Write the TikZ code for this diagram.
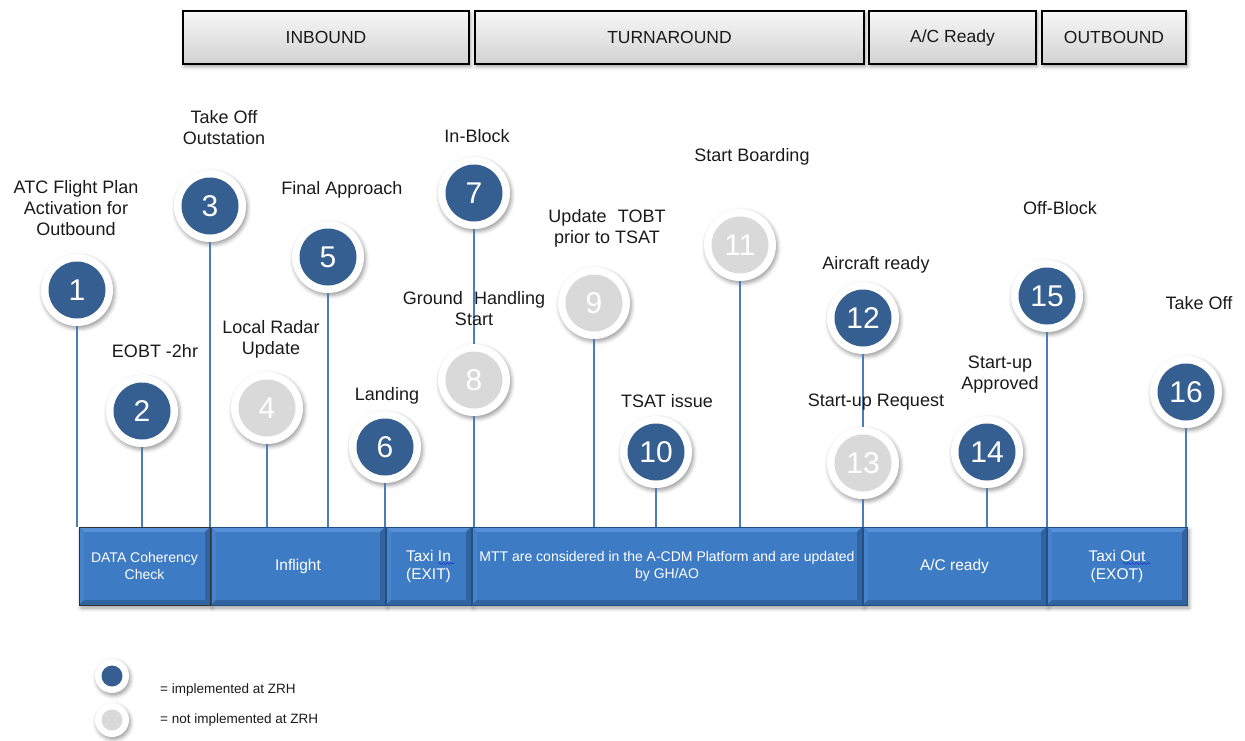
\documentclass[tikz,border=0pt]{standalone}
\usepackage{fontspec}
\setmainfont{Liberation Sans}
\usetikzlibrary{calc,shadows.blur,decorations.pathmorphing}

\definecolor{dotblue}{HTML}{355F91}
\definecolor{dotgray}{HTML}{D9D9D9}
\definecolor{linkblue}{HTML}{4A7EBB}
\definecolor{barblue}{HTML}{3D7BC5}
\definecolor{barlight}{HTML}{5690D6}
\definecolor{barside}{HTML}{4583CC}
\definecolor{bardark}{HTML}{30649F}
\definecolor{barline}{HTML}{254F82}
\definecolor{txt}{HTML}{1A1A1A}
\definecolor{squiggle}{HTML}{2233CC}

\tikzset{
  softshadow/.style={blur shadow={shadow xshift=1.5pt,shadow yshift=-2.5pt,shadow blur radius=4pt,shadow opacity=40}},
  milestone/.style={circle, fill=white, minimum size=72pt, inner sep=0pt, text=white,
    font=\fontsize{30}{30}\selectfont, softshadow},
  done/.style={milestone, path picture={\fill[dotblue] (path picture bounding box.center) circle[radius=28.5pt];}},
  todo/.style={milestone, path picture={\fill[dotgray] (path picture bounding box.center) circle[radius=28.5pt];}},
  keydone/.style={circle, fill=white, minimum size=34pt, inner sep=0pt, softshadow,
    path picture={\fill[dotblue] (path picture bounding box.center) circle[radius=10.5pt];}},
  keytodo/.style={circle, fill=white, minimum size=34pt, inner sep=0pt, softshadow,
    path picture={\fill[dotgray] (path picture bounding box.center) circle[radius=10.5pt];}},
  lbl/.style={font=\fontsize{18}{21}\selectfont, text=txt, align=center, inner sep=0pt},
  keytext/.style={font=\fontsize{13.5}{16}\selectfont, text=txt, anchor=west, inner sep=0pt},
  phase/.style={draw=black, line width=1.5pt, top color=gray!6, bottom color=gray!35,
    minimum height=53pt, font=\fontsize{17.5}{20}\selectfont, text=txt, inner sep=0pt, outer sep=0pt,
    softshadow},
  seg/.style={fill=barblue, draw=barline, line width=0.8pt, minimum height=78pt, inner sep=0pt,
    outer sep=0pt, text=white, align=center, font=\fontsize{15.5}{18}\selectfont,
    blur shadow={shadow xshift=2pt,shadow yshift=-3pt,shadow blur radius=4pt,shadow opacity=40}},
  small/.style={font=\fontsize{14}{17}\selectfont},
  conn/.style={draw=linkblue, line width=1.6pt},
  wavy/.style={draw=squiggle, line width=0.6pt, decorate,
    decoration={snake, amplitude=0.9pt, segment length=4pt}}
}

\begin{document}
\begin{tikzpicture}[x=1pt,y=-1pt]
\useasboundingbox (0,0) rectangle (1245,740);

% phase headers
\node[phase, minimum width=286pt] (hin)  at (326,37.5)    {INBOUND};
\node[phase, minimum width=389pt] (hta)  at (669.5,37.5)  {TURNAROUND};
\node[phase, minimum width=167pt] (hrdy) at (952.5,37.5)  {A/C Ready};
\node[phase, minimum width=144pt] (hout) at (1114,37.5)   {OUTBOUND};

% process bar
\node[seg, small, minimum width=131pt] (s1) at (144.5,566) {DATA Coherency\\Check};
\node[seg, minimum width=174pt] (s2) at (298,566)   {Inflight};
\node[seg, minimum width=85pt]  (s3) at (428.5,566) {Taxi In\\(EXIT)};
\node[seg, small, minimum width=390pt] (s4) at (667,566) {MTT  are  considered in the A-CDM Platform and are updated\\by GH/AO};
\node[seg, minimum width=183pt] (s5) at (954.5,566) {A/C ready};
\node[seg, minimum width=140pt] (s6) at (1117,566)  {Taxi Out\\(EXOT)};

% bevelled edges of the bar segments
\foreach \n in {s1,s2,s3,s4,s5,s6}{
  \fill[barlight] (\n.north west) -- (\n.north east) -- ($(\n.north east)+(-5,5)$) -- ($(\n.north west)+(5,5)$) -- cycle;
  \fill[barside]  (\n.north west) -- ($(\n.north west)+(5,5)$) -- ($(\n.south west)+(5,-5)$) -- (\n.south west) -- cycle;
  \fill[bardark]  (\n.north east) -- ($(\n.north east)+(-5,5)$) -- ($(\n.south east)+(-5,-5)$) -- (\n.south east) -- cycle;
  \fill[bardark]  (\n.south west) -- ($(\n.south west)+(5,-5)$) -- ($(\n.south east)+(-5,-5)$) -- (\n.south east) -- cycle;
  \draw[barline, line width=0.8pt] (\n.north west) rectangle (\n.south east);
}
\draw[black!80, line width=1pt] (s1.north west) rectangle (s1.south east);

% spell-check marks under "In" and "Out"
\draw[wavy] (438,563.5) -- (454,563.5);
\draw[wavy] (1123,563.5) -- (1150,563.5);

% milestones
\node[done] (c1)  at (77,290)   {1};
\node[done] (c2)  at (142,411)  {2};
\node[done] (c3)  at (210,206)  {3};
\node[todo] (c4)  at (267,408)  {4};
\node[done] (c5)  at (328,257)  {5};
\node[done] (c6)  at (385,447)  {6};
\node[done] (c7)  at (474,193)  {7};
\node[todo] (c8)  at (474,380)  {8};
\node[todo] (c9)  at (594,303)  {9};
\node[done] (c10) at (656,452)  {10};
\node[todo] (c11) at (740,245)  {11};
\node[done] (c12) at (863,318)  {12};
\node[todo] (c13) at (863,463)  {13};
\node[done] (c14) at (987,452)  {14};
\node[done] (c15) at (1047,296) {15};
\node[done] (c16) at (1186,392) {16};

% stems from the milestones down to the bar
\draw[conn] (c1.south)  -- (c1  |- s1.north);
\draw[conn] (c2.south)  -- (c2  |- s1.north);
\draw[conn] (c3.south)  -- (c3  |- s1.north);
\draw[conn] (c4.south)  -- (c4  |- s2.north);
\draw[conn] (c5.south)  -- (c5  |- s2.north);
\draw[conn] (c6.south)  -- (c6  |- s2.north);
\draw[conn] (c7.south)  -- (c8.north);
\draw[conn] (c8.south)  -- (c8  |- s4.north);
\draw[conn] (c9.south)  -- (c9  |- s4.north);
\draw[conn] (c10.south) -- (c10 |- s4.north);
\draw[conn] (c11.south) -- (c11 |- s4.north);
\draw[conn] (c12.south) -- (c13.north);
\draw[conn] (c13.south) -- (c13 |- s5.north);
\draw[conn] (c14.south) -- (c14 |- s5.north);
\draw[conn] (c15.south) -- (c15 |- s6.north);
\draw[conn] (c16.south) -- (c16 |- s6.north);

% milestone captions
\node[lbl] (t1)  at (76,208)     {ATC Flight Plan\\Activation for\\Outbound};
\node[lbl] (t2)  at (155,351)    {EOBT -2hr};
\node[lbl] (t3)  at (224,128)    {Take Off\\Outstation};
\node[lbl] (t4)  at (271,339)    {Local Radar\\Update};
\node[lbl] (t5)  at (342,190)    {Final Approach};
\node[lbl] (t6)  at (387,396)    {Landing};
\node[lbl] (t7)  at (477,136)    {In-Block};
\node[lbl] (t8)  at (474,309)    {Ground\hspace{0.35em} Handling\\Start};
\node[lbl] (t9)  at (607,228)    {Update\hspace{0.35em} TOBT\\prior to TSAT};
\node[lbl] (t10) at (667,401)    {TSAT issue};
\node[lbl] (t11) at (752,157)    {Start Boarding};
\node[lbl] (t12) at (876,265)    {Aircraft ready};
\node[lbl] (t13) at (876,402)    {Start-up Request};
\node[lbl] (t14) at (1000,375)   {Start-up\\Approved};
\node[lbl] (t15) at (1060,208)   {Off-Block};
\node[lbl] (t16) at (1199,303)   {Take Off};

% legend
\node[keydone] (kd) at (112,676) {};
\node[keytodo] (kt) at (112,720) {};
\node[keytext] (kdt) at (160,690) {= implemented at ZRH};
\node[keytext] (ktt) at (160,720) {= not implemented at ZRH};
\end{tikzpicture}
\end{document}
